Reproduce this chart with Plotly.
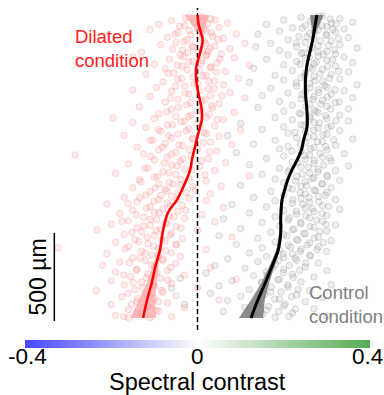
import plotly.graph_objects as go

# ---------------- data ----------------
# scatter points: (spectral contrast, depth in µm)
red_pts = [
    (-0.02,1710),(0.03,1700),(-0.06,1690),(0.01,1685),(0.07,1675),(-0.09,1668),(-0.03,1660),(0.05,1650),(0.0,1645),(-0.11,1638),
    (0.02,1630),(-0.045,1622),(0.09,1615),(-0.015,1608),(0.035,1600),(-0.07,1594),(0.06,1588),(-0.025,1580),(0.015,1572),(-0.05,1565),
    (0.11,1560),(-0.085,1552),(0.04,1545),(-0.01,1538),(0.075,1530),(-0.035,1522),(0.025,1515),(-0.13,1510),(0.0,1505),(0.055,1500),
    (-0.04,1495),(0.02,1488),(-0.15,1482),(0.085,1478),(-0.065,1470),(0.01,1462),(-0.02,1455),(0.045,1450),(-0.1,1442),(0.12,1436),
    (-0.035,1430),(0.03,1422),(-0.075,1415),(0.005,1408),(0.065,1400),(-0.055,1392),(-0.12,1385),(0.02,1378),(-0.01,1370),(0.095,1362),
    (-0.045,1355),(0.04,1348),(-0.08,1340),(-0.15,1295),(0.0,1332),(0.06,1325),(-0.03,1318),(-0.095,1310),(0.025,1302),(-0.06,1288),
    (0.075,1280),(-0.02,1272),(0.03,1265),(-0.11,1258),(0.11,1250),(-0.045,1242),(0.01,1235),(-0.075,1226),(0.05,1218),(-0.025,1210),
    (-0.135,1200),(0.035,1192),(-0.06,1185),(0.0,1176),(0.085,1168),(-0.09,1160),(-0.196,1136),(-0.015,1152),
    (-0.05,1145),(0.02,1140),(-0.1,1132),(0.06,1126),(-0.03,1118),(-0.15,1110),(0.0,1104),(-0.07,1096),(0.04,1090),(-0.12,1082),
    (-0.02,1075),(0.1,1068),(-0.085,1060),(0.015,1052),(-0.045,1045),(-0.17,1038),(0.05,1030),(-0.06,1022),(-0.01,1015),(-0.11,1008),
    (0.03,1000),(-0.075,992),(0.08,985),(-0.035,978),(-0.14,970),(0.0,962),(-0.09,955),(0.045,948),(-0.05,940),(-0.284,926),
    (-0.125,932),(-0.015,920),(-0.07,912),(0.025,905),(-0.1,898),(-0.04,890),(0.065,882),(-0.16,875),(-0.06,868),(0.005,860),
    (-0.115,852),(-0.03,845),(0.04,838),(-0.08,830),(-0.19,822),(-0.05,815),(0.12,808),(-0.1,800),(-0.02,792),(-0.135,785),
    (0.02,778),(-0.065,770),(-0.09,762),(-0.04,755),(0.055,748),(-0.15,740),(-0.075,732),(-0.005,725),(-0.11,718),(-0.045,710),(0.03,705),
    (-0.12,698),(-0.06,692),(-0.17,686),(-0.02,680),(-0.09,673),(0.02,667),(-0.14,660),(-0.07,653),(-0.21,647),(-0.035,640),
    (-0.11,633),(0.06,627),(-0.08,620),(-0.15,613),(-0.045,606),(-0.1,600),(-0.18,593),(0.01,587),(-0.065,580),(-0.125,573),
    (-0.03,566),(-0.095,560),(-0.16,553),(0.04,546),(-0.075,540),(-0.2,533),(-0.11,526),(-0.05,520),(-0.14,512),(-0.233,500),
    (-0.085,505),(0.0,498),(-0.13,490),(-0.06,482),(-0.17,475),(-0.1,468),(0.08,460),(-0.035,452),(-0.145,445),(-0.075,438),
    (-0.19,430),(-0.115,422),(-0.05,415),(-0.323,398),(-0.16,405),(-0.09,395),(0.02,388),(-0.13,380),(-0.06,372),(-0.21,365),
    (-0.105,357),(-0.04,350),(-0.15,342),(-0.08,335),
    (-0.12,326),(-0.18,318),(-0.05,310),(-0.22,300),(-0.1,292),(0.03,285),(-0.14,277),(-0.07,268),(-0.19,260),(-0.115,250),
    (-0.03,243),(-0.155,235),(-0.085,226),(0.09,220),(-0.2,212),(-0.13,204),(-0.06,196),(-0.17,188),(-0.1,180),(0.0,170),
    (-0.145,162),(-0.235,155),(-0.08,146),(-0.12,138),(-0.05,128),(-0.175,120),(-0.1,110),(0.05,102),(-0.14,94),(-0.07,85),
    (-0.2,76),(-0.115,66),(-0.03,58),(-0.16,48),(-0.09,38),(-0.13,26),(-0.19,15),(-0.06,8),(-0.11,2),(-0.16,0),
]
# denser core of the red cloud
red_core_pts = [
    (0.012,1712),(-0.028,1703),(0.041,1694),(-0.008,1681),(0.024,1672),(-0.041,1657),(0.016,1641),(-0.019,1633),(0.033,1619),(-0.052,1611),
    (0.006,1597),(0.048,1583),(-0.031,1569),(0.019,1558),(-0.012,1547),(0.029,1533),(-0.058,1527),(0.011,1519),(-0.022,1508),
    (0.022,1497),(-0.033,1484),(0.052,1471),(-0.011,1459),(0.008,1447),(-0.047,1436),(0.031,1426),(-0.024,1411),(0.044,1396),(-0.068,1389),
    (0.013,1374),(-0.037,1361),(0.026,1343),(-0.008,1329),(-0.051,1316),(0.039,1304),(0.004,1291),(-0.029,1277),(0.057,1262),(-0.062,1249),
    (0.018,1239),(-0.016,1223),(0.033,1206),(-0.044,1197),(0.009,1183),(-0.072,1171),(0.027,1158),(-0.021,1143),(0.046,1128),(-0.038,1114),
    (-0.058,1097),(0.007,1086),(-0.091,1071),(-0.026,1063),(0.021,1047),(-0.067,1036),(-0.012,1021),(-0.104,1011),(0.013,996),(-0.043,983),
    (-0.081,969),(-0.019,957),(0.028,944),(-0.061,929),(-0.108,917),(-0.034,903),(0.009,893),(-0.077,879),(-0.047,864),(-0.122,851),
    (-0.014,842),(-0.066,826),(0.017,813),(-0.093,804),(-0.039,787),(-0.131,773),(-0.057,761),(-0.011,746),(-0.098,737),(-0.071,721),(-0.026,712),
    (-0.085,696),(-0.134,683),(-0.048,671),(-0.101,662),(-0.161,649),(-0.063,637),(-0.118,624),(-0.027,611),(-0.089,597),(-0.142,586),
    (-0.055,574),(-0.109,561),(-0.175,549),(-0.071,537),(-0.124,523),(-0.038,511),(-0.096,497),(-0.152,486),(-0.064,471),(-0.117,459),
    (-0.083,444),(-0.136,433),(-0.049,419),(-0.102,407),(-0.168,393),(-0.074,381),(-0.121,368),(-0.091,355),
    (-0.133,341),(-0.081,327),(-0.158,314),(-0.107,299),(-0.062,287),(-0.142,271),(-0.094,257),(-0.171,244),(-0.118,229),(-0.069,214),
    (-0.149,201),(-0.101,186),(-0.127,171),(-0.083,157),(-0.161,141),(-0.112,126),(-0.139,111),(-0.091,93),(-0.153,79),(-0.121,62),
    (-0.096,44),(-0.141,31),(-0.171,9),
]

gray_pts = [
    (0.29,1715),(0.24,1708),(0.33,1700),(0.2,1693),(0.27,1688),(0.36,1680),(0.31,1675),(0.16,1668),(0.25,1662),(0.3,1655),
    (0.22,1648),(0.34,1642),(0.28,1636),(0.19,1630),(0.32,1624),(0.26,1617),(0.14,1612),(0.3,1606),(0.235,1600),(0.35,1593),
    (0.27,1586),(0.21,1580),(0.31,1573),(0.25,1566),(0.17,1560),(0.33,1553),(0.28,1546),(0.23,1540),(0.37,1533),(0.26,1526),
    (0.19,1520),(0.3,1513),(0.245,1507),(0.32,1500),(0.135,1540),
    (0.21,1494),(0.28,1488),(0.34,1482),(0.25,1476),(0.16,1470),(0.3,1464),(0.23,1457),(0.36,1450),(0.27,1444),(0.2,1438),
    (0.32,1431),(0.26,1425),(0.13,1418),(0.29,1412),(0.22,1405),(0.35,1398),(0.25,1392),(0.31,1385),(0.18,1378),(0.27,1372),
    (0.24,1365),(0.33,1358),(0.2,1352),(0.29,1345),(0.12,1338),(0.26,1332),(0.37,1325),(0.23,1318),(0.3,1311),(0.17,1305),
    (0.28,1298),(0.34,1291),(0.25,1285),(0.21,1278),(0.31,1271),(0.15,1264),(0.27,1258),(0.36,1251),(0.24,1244),(0.29,1237),
    (0.19,1230),(0.32,1223),(0.26,1216),(0.22,1209),(0.3,1202),(0.14,1195),(0.35,1188),(0.27,1181),(0.2,1174),(0.28,1167),
    (0.24,1160),(0.33,1153),
    (0.26,1146),(0.18,1139),(0.3,1132),(0.22,1126),(0.35,1119),(0.27,1112),(0.1,1105),(0.24,1098),(0.31,1091),(0.2,1085),
    (0.28,1078),(0.15,1071),(0.33,1064),(0.25,1057),(0.21,1050),(0.3,1043),(0.07,1036),(0.27,1030),(0.23,1023),(0.36,1016),
    (0.18,1009),(0.29,1002),(0.25,995),(0.13,988),(0.32,981),(0.21,974),(0.27,968),(0.19,961),(0.3,954),(0.24,947),
    (0.09,940),(0.34,933),(0.26,926),(0.2,920),(0.29,913),(0.16,906),(0.25,899),(0.31,892),(0.22,885),(0.27,878),
    (0.12,871),(0.35,864),(0.24,858),(0.19,851),(0.28,844),(0.32,837),(0.21,830),(0.26,823),(0.15,816),(0.3,810),
    (0.23,803),(0.27,796),(0.18,789),(0.33,782),(0.25,775),(0.2,768),(0.29,761),(0.1,754),(0.24,747),(0.31,740),
    (0.22,733),(0.27,727),(0.17,720),(0.3,713),(0.25,706),
    (0.2,699),(0.28,692),(0.13,685),(0.24,679),(0.32,672),(0.18,665),(0.26,658),(0.22,651),(0.08,645),(0.29,638),
    (0.16,631),(0.25,624),(0.33,617),(0.2,610),(0.27,604),(0.12,597),(0.23,590),(0.3,583),(0.18,576),(0.26,569),
    (0.06,563),(0.21,556),(0.29,549),(0.15,542),(0.24,535),(0.32,528),(0.19,522),(0.27,515),(0.1,508),(0.22,501),
    (0.3,494),(0.17,487),(0.25,480),(0.2,474),(0.05,467),(0.28,460),(0.14,453),(0.23,446),(0.31,439),(0.18,432),
    (0.26,426),(0.09,419),(0.21,412),(0.28,405),(0.15,398),(0.24,391),(0.19,384),(0.3,377),(0.12,370),(0.22,364),
    (0.26,357),(0.16,350),(0.2,343),(0.07,336),
    (0.23,328),(0.14,320),(0.28,312),(0.18,305),(0.04,298),(0.25,290),(0.11,283),(0.2,276),(0.3,269),(0.16,262),
    (0.02,255),(0.22,248),(0.13,240),(0.27,233),(-0.04,226),(0.19,219),(0.08,212),(0.24,205),(0.15,198),(0.31,190),
    (0.05,183),(0.21,176),(-0.06,170),(0.12,162),(0.26,155),(0.17,147),(0.03,140),(0.23,132),(0.1,124),(0.29,116),
    (0.19,108),(0.07,100),(0.25,92),(0.14,84),(-0.03,76),(0.2,68),(0.11,60),(0.27,52),(0.16,44),(0.06,36),
    (0.22,28),(0.13,20),(0.3,12),(0.18,4),
]
# denser core of the gray cloud
gray_core_pts = [
    (0.281,1711),(0.308,1698),(0.262,1686),(0.322,1671),(0.289,1659),(0.243,1647),(0.314,1638),(0.271,1623),(0.298,1611),(0.254,1597),
    (0.327,1588),(0.286,1574),(0.229,1562),(0.304,1549),(0.266,1536),(0.318,1523),(0.279,1511),(0.241,1503),
    (0.292,1496),(0.259,1481),(0.313,1467),(0.276,1453),(0.238,1442),(0.302,1428),(0.266,1413),(0.327,1401),(0.284,1387),(0.249,1374),
    (0.306,1362),(0.272,1347),(0.229,1336),(0.295,1321),(0.261,1308),(0.319,1296),(0.281,1281),(0.243,1269),(0.301,1255),(0.268,1242),
    (0.329,1228),(0.286,1214),(0.251,1201),(0.309,1187),(0.274,1172),(0.236,1163),(0.297,1149),(0.262,1134),(0.321,1121),(0.283,1108),
    (0.247,1093),(0.302,1081),(0.269,1067),(0.226,1054),(0.291,1041),(0.256,1027),(0.316,1013),(0.278,1001),(0.239,988),(0.297,974),
    (0.262,961),(0.219,948),(0.284,936),(0.248,922),(0.307,909),(0.271,896),(0.232,882),(0.293,869),(0.257,857),(0.214,843),
    (0.279,829),(0.243,817),(0.301,803),(0.266,791),(0.228,777),(0.288,763),(0.253,751),(0.211,738),(0.274,724),(0.238,711),
    (0.296,697),(0.259,684),(0.221,672),(0.281,659),(0.244,646),(0.304,633),(0.266,621),(0.229,607),(0.289,594),(0.251,582),
    (0.213,569),(0.276,556),(0.239,543),(0.298,531),(0.261,518),(0.224,505),(0.284,492),(0.246,479),(0.207,467),(0.271,454),
    (0.233,441),(0.292,428),(0.254,415),(0.216,402),(0.277,389),(0.238,377),(0.199,364),(0.262,351),
    (0.226,339),(0.189,326),(0.251,312),(0.213,298),(0.174,285),(0.237,271),(0.199,258),(0.161,244),(0.222,231),(0.186,217),
    (0.148,203),(0.209,189),(0.171,176),(0.233,162),(0.194,148),(0.156,134),(0.218,121),(0.179,107),(0.141,93),(0.203,79),
    (0.165,65),(0.227,51),(0.188,37),(0.151,23),(0.212,9),
]

# fitted trends with confidence half-width
red_curve_depth = [1721,1665,1620,1579,1505,1426,1352,1278,1181,1125,1051,971,897,841,727,670,596,483,386,290,200,102,0]
red_curve_x     = [0.000,0.003,0.008,0.012,0.006,-0.003,-0.003,0.002,0.010,0.010,0.002,-0.006,-0.013,-0.017,-0.036,-0.048,-0.069,-0.081,-0.087,-0.098,-0.106,-0.117,-0.126]
red_curve_hw    = [0.027,0.017,0.006,0.003,0.003,0.003,0.003,0.003,0.003,0.003,0.003,0.003,0.003,0.003,0.003,0.003,0.003,0.003,0.004,0.007,0.011,0.019,0.030]

gray_curve_depth = [1721,1665,1620,1579,1505,1426,1340,1255,1170,1085,1011,954,897,841,784,727,670,574,483,386,290,199,102,0]
gray_curve_x     = [0.277,0.273,0.270,0.267,0.260,0.253,0.250,0.251,0.254,0.254,0.246,0.241,0.231,0.219,0.209,0.202,0.196,0.193,0.193,0.187,0.172,0.157,0.140,0.124]
gray_curve_hw    = [0.016,0.009,0.004,0.003,0.003,0.003,0.003,0.003,0.003,0.003,0.003,0.003,0.003,0.003,0.003,0.003,0.003,0.003,0.003,0.004,0.006,0.009,0.016,0.028]

cbar_ticks = [-0.4, 0, 0.4]
cbar_labels = ["-0.4", "0", "0.4"]
scale_bar_um = 500

FONT = "Liberation Sans, Arial, sans-serif"
PL, PR, PT, PB = 25, 14, 0, 60          # margins (px)
W, H = 384, 395
PW, PH = W - PL - PR, H - PT - PB

def px_to_paper_x(px):
    return (px - PL) / PW

def py_to_paper_y(py):
    return (PT + PH - py) / PH

fig = go.Figure()

def add_cloud(pts, fill, edge):
    fig.add_trace(go.Scatter(
        x=[p[0] for p in pts], y=[p[1] for p in pts], mode="markers",
        marker=dict(size=6.5, color=fill, line=dict(color=edge, width=1)),
        hoverinfo="skip", showlegend=False))

add_cloud(gray_pts + gray_core_pts, "rgba(120,120,120,0.12)", "rgba(110,110,110,0.22)")
add_cloud(red_pts + red_core_pts, "rgba(255,60,60,0.09)", "rgba(255,60,60,0.18)")

def add_band(depth, x, hw, color):
    upper = [a + h for a, h in zip(x, hw)]
    lower = [a - h for a, h in zip(x, hw)]
    fig.add_trace(go.Scatter(
        x=upper + lower[::-1], y=depth + depth[::-1], mode="lines",
        fill="toself", fillcolor=color, line=dict(width=0),
        hoverinfo="skip", showlegend=False))

# dashed zero line
fig.add_trace(go.Scatter(x=[0, 0], y=[-68, 1761], mode="lines",
                         line=dict(color="black", width=1.5, dash="5px,3px"),
                         hoverinfo="skip", showlegend=False))

add_band(red_curve_depth, red_curve_x, red_curve_hw, "rgba(255,160,160,0.7)")
add_band(gray_curve_depth, gray_curve_x, gray_curve_hw, "rgba(110,110,110,0.8)")

fig.add_trace(go.Scatter(x=red_curve_x, y=red_curve_depth, mode="lines",
                         line=dict(color="#ff0000", width=2.5, shape="spline"),
                         hoverinfo="skip", showlegend=False))
fig.add_trace(go.Scatter(x=gray_curve_x, y=gray_curve_depth, mode="lines",
                         line=dict(color="#000000", width=3, shape="spline"),
                         hoverinfo="skip", showlegend=False))

# scale bar
fig.add_trace(go.Scatter(x=[-0.332, -0.332], y=[-17, -17 + scale_bar_um], mode="lines",
                         line=dict(color="black", width=1.5),
                         hoverinfo="skip", showlegend=False))

# colorbar host trace (bar only; labels drawn as annotations)
fig.add_trace(go.Scatter(
    x=[0, 0], y=[-5000, -5000], mode="markers",
    marker=dict(size=1, opacity=0, color=[cbar_ticks[0], cbar_ticks[-1]],
                cmin=cbar_ticks[0], cmax=cbar_ticks[-1],
                colorscale=[[0, "#4646ff"], [0.5, "#ffffff"], [1, "#55aa55"]],
                showscale=True,
                colorbar=dict(orientation="h", thickness=8, outlinewidth=0,
                              lenmode="pixels", len=PW, x=0.5, xanchor="center",
                              xref="paper", yref="container", y=1 - 340 / H,
                              yanchor="top", ypad=0, xpad=0,
                              showticklabels=False, ticks="")),
    hoverinfo="skip", showlegend=False))

# colorbar tick labels and title
tick_px = [27.5, 197, 384]
tick_anchor = ["center", "center", "right"]
for lab, tx, anc in zip(cbar_labels, tick_px, tick_anchor):
    fig.add_annotation(x=px_to_paper_x(tx), y=py_to_paper_y(356), xref="paper", yref="paper",
                       text=lab, showarrow=False, xanchor=anc, yanchor="middle", borderpad=0,
                       font=dict(size=22.5, color="black", family=FONT))
fig.add_annotation(x=px_to_paper_x(197), y=py_to_paper_y(382), xref="paper", yref="paper",
                   text="Spectral contrast", showarrow=False, xanchor="center", yanchor="middle",
                   borderpad=0, font=dict(size=23.5, color="black", family=FONT))

fig.add_annotation(x=-0.289, y=1672, xref="x", yref="y", text="Dilated<br>condition",
                   showarrow=False, xanchor="left", yanchor="top", align="left",
                   font=dict(size=18.5, color="#ff2020", family=FONT))
fig.add_annotation(x=0.254, y=218, xref="x", yref="y", text="Control<br>condition",
                   showarrow=False, xanchor="left", yanchor="top", align="left",
                   font=dict(size=18.5, color="#808080", family=FONT))
fig.add_annotation(x=-0.371, y=233, xref="x", yref="y", text="500 µm",
                   showarrow=False, textangle=-90, xanchor="center", yanchor="middle",
                   font=dict(size=23, color="black", family=FONT))

fig.update_layout(
    width=W, height=H,
    margin=dict(l=PL, r=PR, t=PT, b=PB),
    plot_bgcolor="white", paper_bgcolor="white",
    xaxis=dict(range=[-0.4, 0.4], visible=False),
    yaxis=dict(range=[-96.6, 1806.2], visible=False),
    showlegend=False,
)

fig.write_html("out.html")
